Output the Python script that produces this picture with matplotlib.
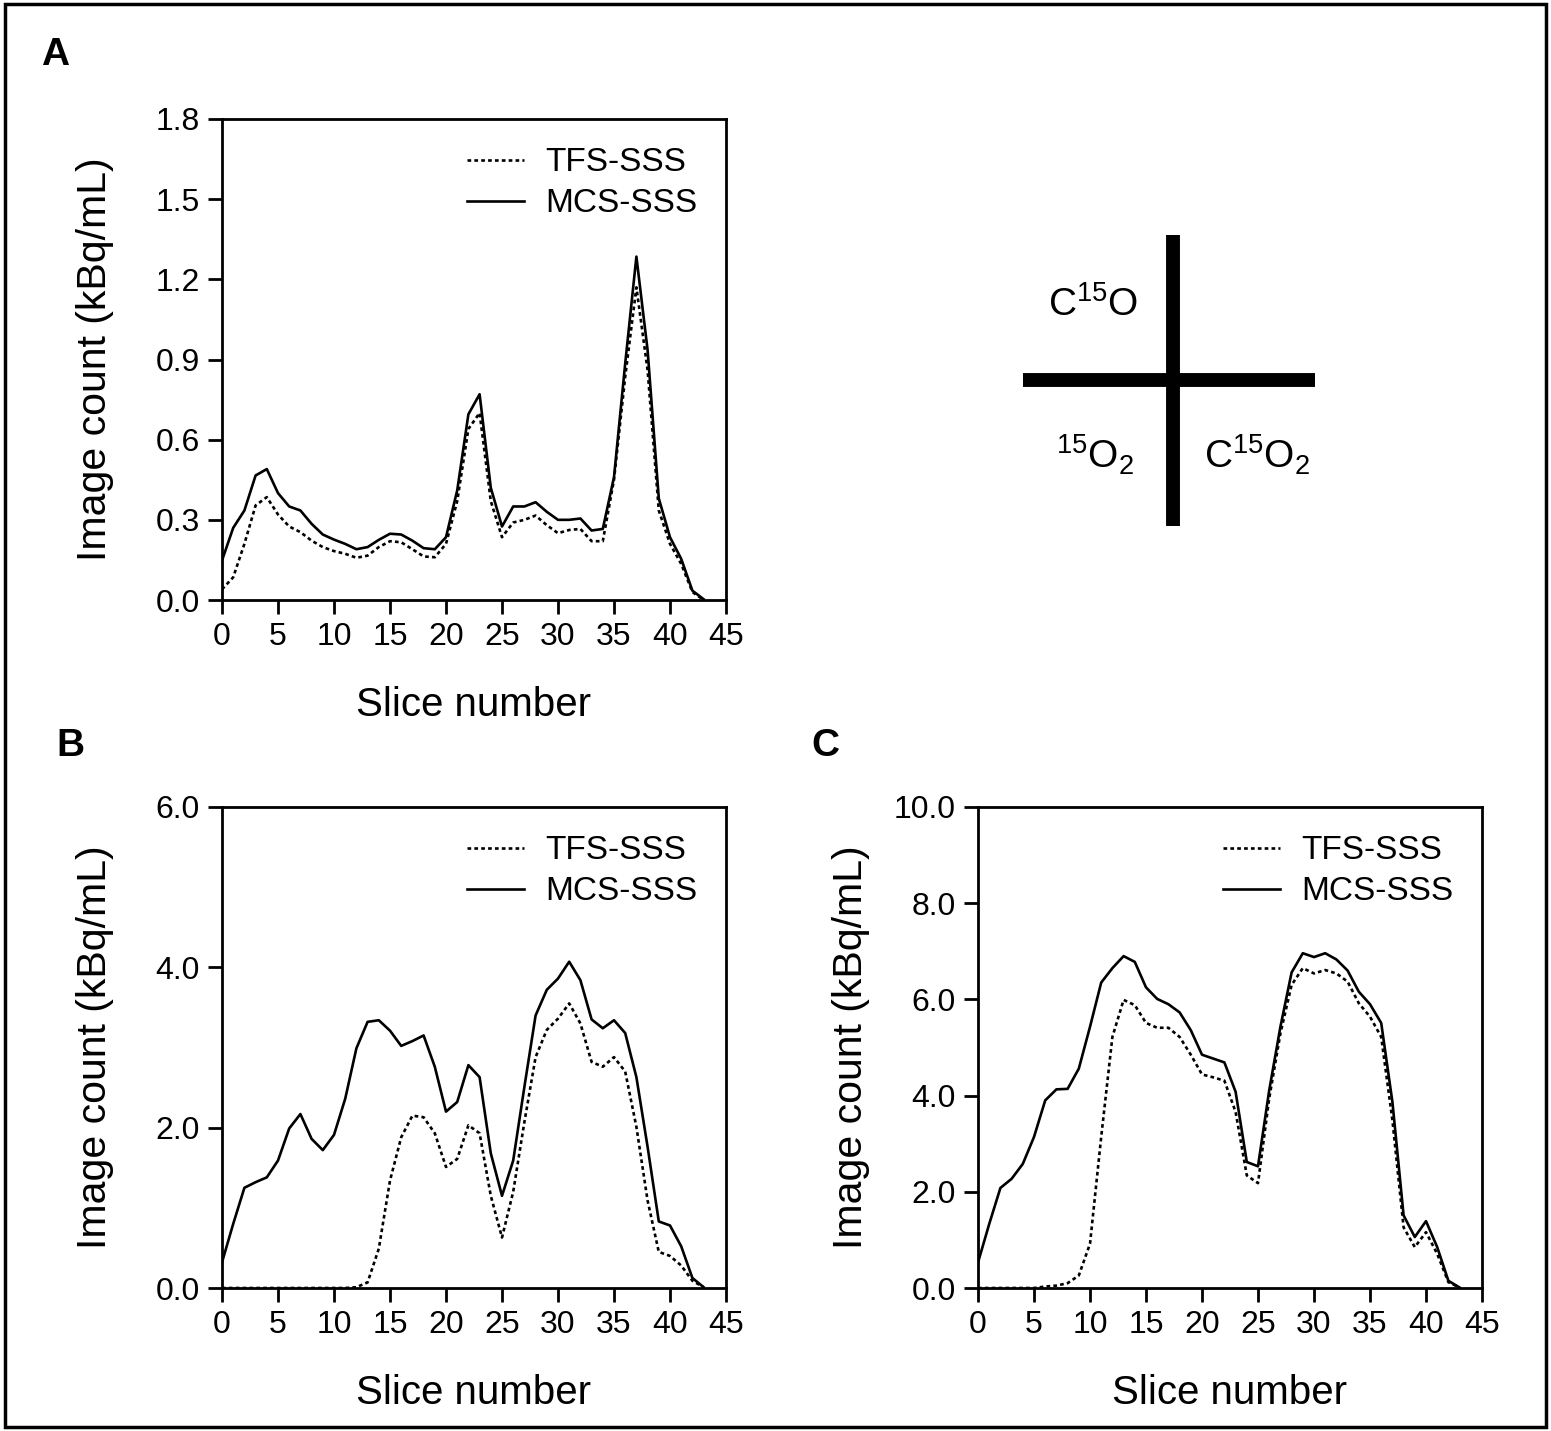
import matplotlib
matplotlib.use("Agg")
import matplotlib.pyplot as plt
from matplotlib.patches import Rectangle
from matplotlib.lines import Line2D

plt.rcParams['font.family'] = ['Liberation Sans', 'DejaVu Sans']
plt.rcParams['mathtext.default'] = 'regular'

slices = list(range(44))

# Panel A
a_tfs = [0.04, 0.085, 0.21, 0.354, 0.385, 0.32, 0.275, 0.254, 0.222, 0.198,
         0.183, 0.173, 0.158, 0.166, 0.198, 0.22, 0.216, 0.19, 0.163, 0.16,
         0.21, 0.37, 0.64, 0.70, 0.37, 0.235, 0.29, 0.30, 0.316, 0.28,
         0.25, 0.262, 0.266, 0.22, 0.22, 0.45, 0.835, 1.17, 0.86, 0.335,
         0.21, 0.135, 0.03, 0.0]
a_mcs = [0.148, 0.27, 0.335, 0.466, 0.49, 0.40, 0.35, 0.335, 0.285, 0.245,
         0.226, 0.21, 0.19, 0.198, 0.225, 0.248, 0.245, 0.222, 0.194, 0.19,
         0.235, 0.41, 0.695, 0.77, 0.42, 0.275, 0.35, 0.35, 0.366, 0.33,
         0.30, 0.30, 0.305, 0.26, 0.266, 0.46, 0.885, 1.285, 0.935, 0.38,
         0.235, 0.154, 0.035, 0.003]

# Panel B
b_tfs = [0, 0, 0, 0, 0, 0, 0, 0, 0, 0,
         0, 0, 0.01, 0.07, 0.49, 1.34, 1.88, 2.15, 2.13, 1.93,
         1.51, 1.61, 2.03, 1.93, 1.15, 0.63, 1.20, 2.07, 2.88, 3.22,
         3.36, 3.55, 3.30, 2.82, 2.76, 2.88, 2.70, 2.01, 1.09, 0.45,
         0.40, 0.28, 0.09, 0.01]
b_mcs = [0.32, 0.8, 1.25, 1.32, 1.38, 1.59, 1.99, 2.17, 1.86, 1.72,
         1.91, 2.36, 2.99, 3.32, 3.34, 3.21, 3.02, 3.08, 3.15, 2.76,
         2.2, 2.32, 2.78, 2.63, 1.68, 1.15, 1.59, 2.51, 3.40, 3.72,
         3.86, 4.07, 3.84, 3.35, 3.24, 3.34, 3.18, 2.63, 1.76, 0.83,
         0.78, 0.52, 0.125, 0.01]

# Panel C
c_tfs = [0, 0, 0, 0, 0, 0, 0.03, 0.05, 0.1, 0.26,
         0.92, 3.14, 5.22, 5.99, 5.88, 5.51, 5.41, 5.41, 5.22, 4.85,
         4.44, 4.38, 4.31, 3.66, 2.34, 2.18, 3.94, 5.29, 6.30, 6.65,
         6.54, 6.61, 6.54, 6.37, 5.92, 5.64, 5.22, 3.49, 1.26, 0.85,
         1.16, 0.71, 0.12, 0.01]
c_mcs = [0.53, 1.33, 2.08, 2.27, 2.58, 3.14, 3.90, 4.13, 4.14, 4.56,
         5.43, 6.35, 6.65, 6.90, 6.78, 6.25, 6.01, 5.90, 5.73, 5.36,
         4.85, 4.77, 4.69, 4.08, 2.62, 2.53, 4.11, 5.43, 6.56, 6.96,
         6.88, 6.96, 6.83, 6.60, 6.16, 5.90, 5.51, 3.87, 1.51, 1.06,
         1.39, 0.85, 0.15, 0.01]

x_ticks = [0, 5, 10, 15, 20, 25, 30, 35, 40, 45]
a_yticks = [0.0, 0.3, 0.6, 0.9, 1.2, 1.5, 1.8]
b_yticks = [0.0, 2.0, 4.0, 6.0]
c_yticks = [0.0, 2.0, 4.0, 6.0, 8.0, 10.0]

W, H = 1551, 1431
fig = plt.figure(figsize=(W / 100, H / 100), dpi=100)

# outer frame
fig.patches.append(Rectangle((0.003, 0.003), 0.994, 0.994, transform=fig.transFigure,
                             fill=False, edgecolor='black', linewidth=2.5))


def make_panel(left_px, top_px, right_px, bottom_px, tfs, mcs, yticks):
    ax = fig.add_axes([left_px / W, 1 - bottom_px / H,
                       (right_px - left_px) / W, (bottom_px - top_px) / H])
    ax.plot(slices, tfs, color='black', lw=1.9, linestyle=(0, (1.4, 1.2)), label='TFS-SSS')
    ax.plot(slices, mcs, color='black', lw=1.9, label='MCS-SSS')
    ax.set_xlim(0, 45)
    ax.set_ylim(yticks[0], yticks[-1])
    ax.set_xticks(x_ticks)
    ax.set_yticks(yticks)
    ax.set_yticklabels([f"{v:.1f}" for v in yticks])
    ax.tick_params(direction='out', length=10, width=2, labelsize=23, pad=6)
    for s in ax.spines.values():
        s.set_linewidth(2)
    ax.set_xlabel('Slice number', fontsize=29, va='center')
    ax.set_ylabel('Image count (kBq/mL)', fontsize=29.5, va='center')
    # same label offset for every panel, as in the original figure
    ax.xaxis.set_label_coords(0.5, -0.218)
    ax.yaxis.set_label_coords(-0.252, 0.5)
    ax.legend(loc='upper right', frameon=False, fontsize=24, handlelength=1.7,
              handletextpad=0.65, labelspacing=0.3, borderaxespad=0.45,
              bbox_to_anchor=(1.0, 1.0))
    return ax


make_panel(222, 119, 726, 600, a_tfs, a_mcs, a_yticks)
make_panel(222, 807, 726, 1288, b_tfs, b_mcs, b_yticks)
make_panel(978, 807, 1482, 1288, c_tfs, c_mcs, c_yticks)

# panel letters
for label, xp, yp in [('A', 55, 55), ('B', 70, 746), ('C', 825, 746)]:
    fig.text(xp / W, 1 - yp / H, label, fontsize=28, fontweight='bold',
             ha='center', va='center')

# cross diagram
fig.add_artist(Line2D([1173 / W, 1173 / W], [1 - 235 / H, 1 - 526 / H],
                      color='black', lw=10, solid_capstyle='butt'))
fig.add_artist(Line2D([1023 / W, 1315 / W], [1 - 380 / H, 1 - 380 / H],
                      color='black', lw=10, solid_capstyle='butt'))
fig.text(1093 / W, 1 - 305 / H, r'C$^{15}$O', fontsize=28, ha='center', va='center')
fig.text(1095 / W, 1 - 455 / H, r'$^{15}$O$_{2}$', fontsize=28, ha='center', va='center')
fig.text(1257 / W, 1 - 455 / H, r'C$^{15}$O$_{2}$', fontsize=28, ha='center', va='center')

fig.savefig('out.png', dpi=100)
